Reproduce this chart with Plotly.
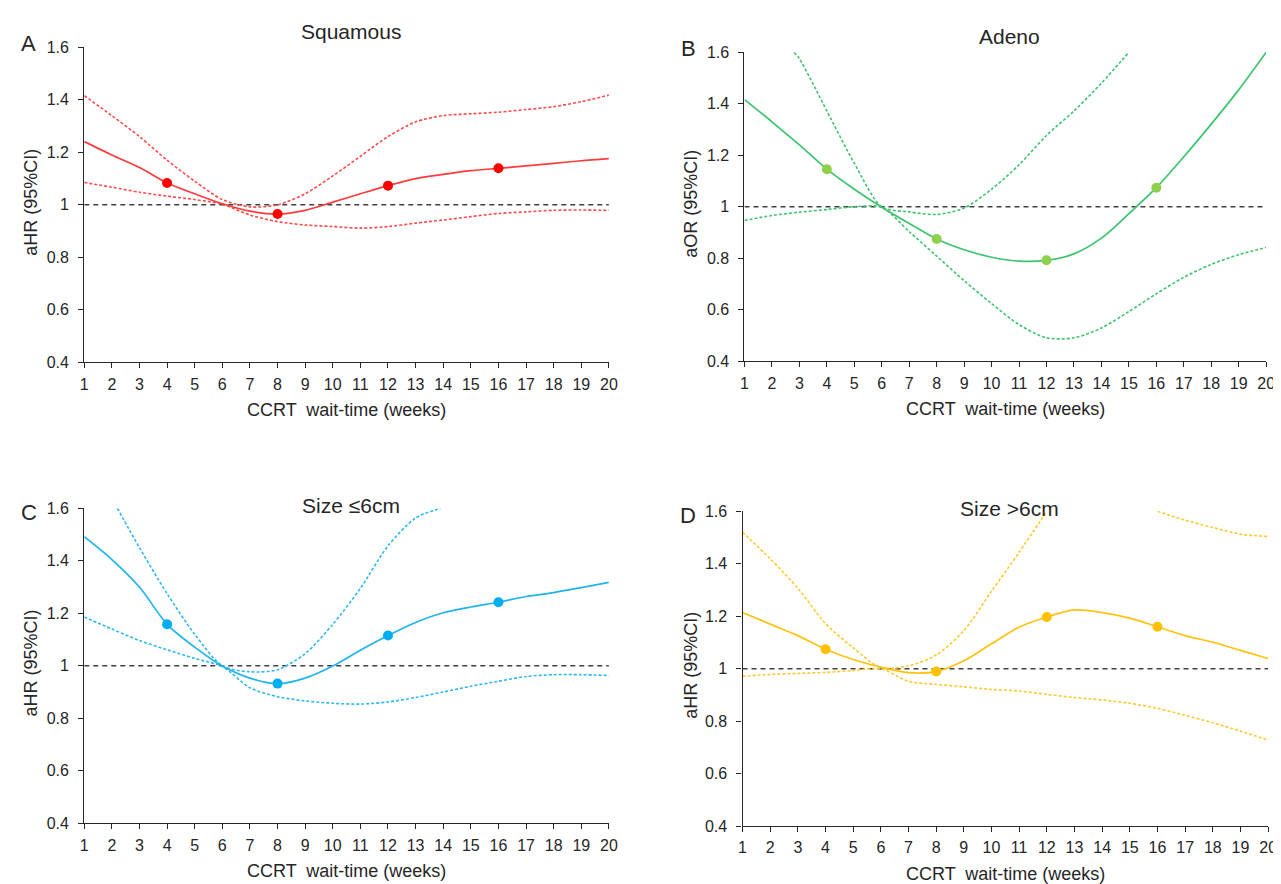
import plotly.graph_objects as go

# ---------------- data ----------------
weeks = list(range(1, 21))
marker_weeks = [4, 8, 12, 16]

# A: Squamous
sq_est = [1.241, 1.190, 1.142, 1.083, 1.042, 1.004, 0.976, 0.965, 0.979, 1.010,
          1.042, 1.073, 1.100, 1.116, 1.130, 1.139, 1.148, 1.158, 1.168, 1.176]
sq_hi = [1.416, 1.340, 1.260, 1.170, 1.090, 1.020, 0.992, 1.000, 1.042, 1.110,
         1.185, 1.260, 1.316, 1.340, 1.347, 1.353, 1.363, 1.374, 1.393, 1.418]
sq_lo = [1.085, 1.067, 1.048, 1.033, 1.020, 1.002, 0.961, 0.936, 0.923, 0.917,
         0.911, 0.917, 0.930, 0.942, 0.955, 0.967, 0.973, 0.979, 0.980, 0.979]

# B: Adeno
ad_est = [1.416, 1.330, 1.240, 1.146, 1.068, 0.998, 0.935, 0.875, 0.833, 0.804,
          0.789, 0.792, 0.817, 0.878, 0.973, 1.074, 1.194, 1.321, 1.454, 1.600]
ad_hi_x = [2.8, 3, 4, 5, 6, 7, 8, 9, 10, 11, 12, 13, 14, 15]
ad_hi = [1.600, 1.575, 1.372, 1.169, 1.000, 0.980, 0.970, 0.995, 1.068, 1.163,
         1.277, 1.372, 1.480, 1.600]
ad_lo = [0.947, 0.966, 0.979, 0.989, 1.000, 0.998, 0.903, 0.808, 0.713, 0.624,
         0.542, 0.491, 0.491, 0.529, 0.593, 0.662, 0.726, 0.776, 0.814, 0.842]

# C: Size <=6cm
s6_est = [1.492, 1.405, 1.300, 1.158, 1.071, 0.999, 0.953, 0.932, 0.953, 0.999,
          1.059, 1.115, 1.165, 1.202, 1.224, 1.242, 1.264, 1.279, 1.298, 1.318]
s6_hi_x = [2.2, 3, 4, 5, 6, 7, 8, 9, 10, 11, 12, 13, 13.9]
s6_hi = [1.600, 1.450, 1.275, 1.120, 1.000, 0.977, 0.985, 1.046, 1.158, 1.295,
         1.457, 1.563, 1.600]
s6_lo = [1.186, 1.140, 1.096, 1.061, 1.028, 0.997, 0.916, 0.882, 0.866, 0.857,
         0.854, 0.862, 0.879, 0.900, 0.922, 0.941, 0.959, 0.966, 0.966, 0.963]

# D: Size >6cm
sl_est = [1.214, 1.170, 1.126, 1.074, 1.035, 1.006, 0.985, 0.989, 1.030, 1.095,
          1.158, 1.197, 1.224, 1.214, 1.193, 1.160, 1.126, 1.101, 1.070, 1.039]
sl_hi = [1.521, 1.419, 1.307, 1.172, 1.080, 1.004, 1.011, 1.052, 1.145, 1.295,
         1.444, 1.600, None, None, None, 1.600, 1.566, 1.538, 1.513, 1.504]
sl_lo = [0.971, 0.978, 0.982, 0.986, 0.993, 1.000, 0.952, 0.940, 0.931, 0.921,
         0.915, 0.902, 0.890, 0.881, 0.868, 0.849, 0.822, 0.794, 0.762, 0.728]

y_ticks = [0.4, 0.6, 0.8, 1.0, 1.2, 1.4, 1.6]
y_tick_labels = ["0.4", "0.6", "0.8", "1", "1.2", "1.4", "1.6"]
x_title = "CCRT  wait-time (weeks)"

# ---------------- layout helpers ----------------
W, H = 1281, 884
FONT = "Arial, Liberation Sans, sans-serif"
TXT = "#262626"
AX = "#262626"


def px(x):
    return x / W


def py(y):
    return 1 - y / H


panels = [
    dict(letter="A", title="Squamous", ytitle="aHR (95%CI)", box=(73, 603, 32, 353),
         line="#FF3B3B", ci="#FF4A4A", mk="#FF0000",
         est=sq_est, hi_x=weeks, hi=sq_hi, lo=sq_lo),
    dict(letter="B", title="Adeno", ytitle="aOR (95%CI)", box=(740, 1267, 37, 352),
         line="#3CC46E", ci="#3CC46E", mk="#8ED04C",
         est=ad_est, hi_x=ad_hi_x, hi=ad_hi, lo=ad_lo),
    dict(letter="C", title="Size ≤6cm", ytitle="aHR (95%CI)", box=(73, 603, 502, 823),
         line="#1EB4EE", ci="#2CB8F0", mk="#00AEEF",
         est=s6_est, hi_x=s6_hi_x, hi=s6_hi, lo=s6_lo),
    dict(letter="D", title="Size >6cm", ytitle="aHR (95%CI)", box=(738, 1269, 505, 826),
         line="#FFC20E", ci="#FFC830", mk="#FFC000",
         est=sl_est, hi_x=weeks, hi=sl_hi, lo=sl_lo),
]

fig = go.Figure()
annotations = []
layout_axes = {}

for i, p in enumerate(panels, start=1):
    sfx = "" if i == 1 else str(i)
    xa, ya = "x" + sfx, "y" + sfx
    x0, x1, yt, yb = p["box"]

    # reference line at 1
    fig.add_trace(go.Scatter(x=[weeks[0], weeks[-1]], y=[1, 1], mode="lines",
                             line=dict(color="#404040", width=1.4, dash="5px,4px"),
                             xaxis=xa, yaxis=ya, showlegend=False, hoverinfo="skip"))
    # confidence limits
    fig.add_trace(go.Scatter(x=p["hi_x"], y=p["hi"], mode="lines",
                             line=dict(color=p["ci"], width=1.6, dash="3px,2px",
                                       shape="spline", smoothing=0.8),
                             xaxis=xa, yaxis=ya, showlegend=False, connectgaps=False))
    fig.add_trace(go.Scatter(x=weeks, y=p["lo"], mode="lines",
                             line=dict(color=p["ci"], width=1.6, dash="3px,2px",
                                       shape="spline", smoothing=0.8),
                             xaxis=xa, yaxis=ya, showlegend=False))
    # estimate
    fig.add_trace(go.Scatter(x=weeks, y=p["est"], mode="lines",
                             line=dict(color=p["line"], width=1.7,
                                       shape="spline", smoothing=0.8),
                             xaxis=xa, yaxis=ya, showlegend=False))
    # markers
    mk_y = [p["est"][weeks.index(w)] for w in marker_weeks]
    fig.add_trace(go.Scatter(x=marker_weeks, y=mk_y, mode="markers",
                             marker=dict(color=p["mk"], size=10, line=dict(width=0)),
                             xaxis=xa, yaxis=ya, showlegend=False))

    layout_axes["xaxis" + sfx] = dict(
        domain=[px(x0), px(x1)], anchor=ya, range=[1, 20],
        tickvals=weeks, ticktext=[str(w) for w in weeks],
        ticks="outside", ticklen=5, tickwidth=1.2, tickcolor=AX,
        showline=True, linecolor=AX, linewidth=1.3, showgrid=False, zeroline=False,
        tickfont=dict(family=FONT, size=16, color=TXT), ticklabelstandoff=2,
        fixedrange=True)
    layout_axes["yaxis" + sfx] = dict(
        domain=[py(yb), py(yt)], anchor=xa, range=[0.4, 1.6],
        tickvals=y_ticks, ticktext=y_tick_labels,
        ticks="outside", ticklen=5, tickwidth=1.2, tickcolor=AX,
        showline=True, linecolor=AX, linewidth=1.3, showgrid=False, zeroline=False,
        tickfont=dict(family=FONT, size=16, color=TXT), ticklabelstandoff=6,
        fixedrange=True)

    cx = (x0 + x1) / 2
    # title
    annotations.append(dict(text=p["title"], x=px(cx + 4), y=py(yt - 16 if i <= 2 else yt - 3),
                            xref="paper", yref="paper", showarrow=False,
                            xanchor="center", yanchor="middle",
                            font=dict(family=FONT, size=21, color=TXT)))
    # panel letter
    lx = 17 if x0 < 400 else 683
    annotations.append(dict(text=p["letter"], x=px(lx), y=py(yt - 4 if i <= 2 else yt + 4),
                            xref="paper", yref="paper", showarrow=False,
                            xanchor="center", yanchor="middle",
                            font=dict(family=FONT, size=22, color=TXT)))
    # x-axis title
    annotations.append(dict(text=x_title, x=px(cx), y=py(yb + 49),
                            xref="paper", yref="paper", showarrow=False,
                            xanchor="center", yanchor="middle",
                            font=dict(family=FONT, size=18, color=TXT)))
    # y-axis title
    ytx = 19 if x0 < 400 else 686
    annotations.append(dict(text=p["ytitle"], x=px(ytx), y=py((yt + yb) / 2 - 3),
                            xref="paper", yref="paper", showarrow=False, textangle=-90,
                            xanchor="center", yanchor="middle",
                            font=dict(family=FONT, size=18, color=TXT)))

fig.update_layout(
    width=W, height=H, autosize=False,
    margin=dict(l=0, r=0, t=0, b=0),
    paper_bgcolor="white", plot_bgcolor="white",
    annotations=annotations,
    **layout_axes,
)

fig.write_html("out.html", config={"displayModeBar": False})
